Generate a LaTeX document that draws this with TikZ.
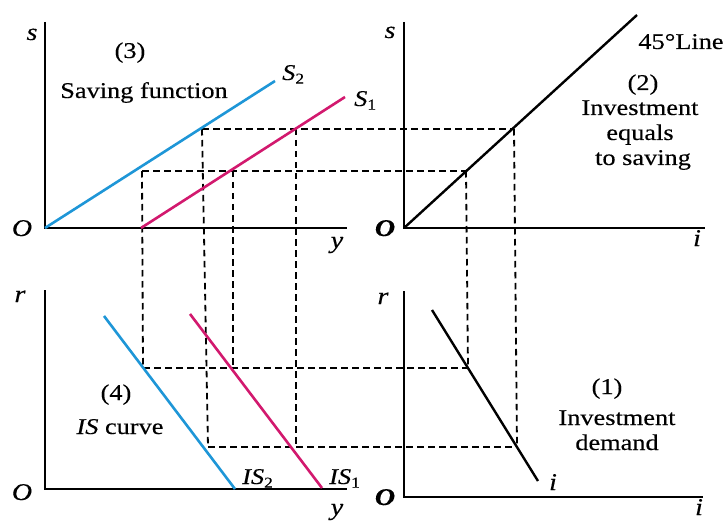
\documentclass[tikz,border=0pt]{standalone}
\usepackage{fontspec}
\setmainfont{Liberation Serif}[FakeStretch=1.17,FakeBold=0.3]
\definecolor{sblue}{RGB}{30,150,215}
\definecolor{smag}{RGB}{210,25,110}
\newcommand{\lsub}[1]{\raisebox{-0.35ex}{\fontsize{15}{15}\selectfont #1}}
\begin{document}
\begin{tikzpicture}[x=1pt,y=-1pt,
  axis/.style={line width=2.3pt},
  curveline/.style={line width=2.6pt},
  guide/.style={line width=1.8pt, dash pattern=on 6.5pt off 4.5pt},
  lbl/.style={inner sep=0pt, anchor=base, font=\fontsize{22.5}{26}\selectfont},
  albl/.style={lbl, font=\fontsize{24}{26}\selectfont\itshape},
  olbl/.style={lbl, font=\fontsize{24}{26}\selectfont\bfseries\itshape}]
\useasboundingbox (0,0) rectangle (727,521);
% ---------- axes ----------
\coordinate (TLtop) at (45,22);   \coordinate (TLo) at (45,228);  \coordinate (TLx) at (347,228);
\coordinate (TRtop) at (404,22);  \coordinate (TRo) at (404,228); \coordinate (TRx) at (705,228);
\coordinate (BLtop) at (45,290);  \coordinate (BLo) at (45,489);  \coordinate (BLx) at (347,489);
\coordinate (BRtop) at (404,291); \coordinate (BRo) at (404,497); \coordinate (BRx) at (703,497);
\draw[axis] (TLtop) -- (TLo) -- (TLx);
\draw[axis] (TRtop) -- (TRo) -- (TRx);
\draw[axis] (BLtop) -- (BLo) -- (BLx);
\draw[axis] (BRtop) -- (BRo) -- (BRx);
% ---------- curves ----------
\coordinate (S2a) at (45,228);  \coordinate (S2b) at (275,81);
\coordinate (S1a) at (141,228); \coordinate (S1b) at (345,97);
\coordinate (La) at (404,228);  \coordinate (Lb) at (637,15);
\coordinate (IS2a) at (104,316); \coordinate (IS2b) at (235,489);
\coordinate (IS1a) at (190,314); \coordinate (IS1b) at (322,488);
\coordinate (Ia) at (432,310);  \coordinate (Ib) at (538,481);
% ---------- guide points ----------
\coordinate (A1) at (202,129); \coordinate (A2) at (296,129); \coordinate (A3) at (514,129);
\coordinate (B1) at (142,171); \coordinate (B2) at (233,171); \coordinate (B3) at (466,171);
\coordinate (C1) at (143,368); \coordinate (C2) at (233,368); \coordinate (C3) at (468,368);
\coordinate (D1) at (208,447); \coordinate (D2) at (296,447); \coordinate (D3) at (517,447);
\draw[guide] (A1) -- (A3);
\draw[guide] (B1) -- (B3);
\draw[guide] (C1) -- (C3);
\draw[guide] (D1) -- (D3);
\draw[guide] (B1) -- (C1);
\draw[guide] (B2) -- (C2);
\draw[guide] (B3) -- (C3);
\draw[guide] (A1) -- (D1);
\draw[guide] (A2) -- (D2);
\draw[guide] (A3) -- (D3);
\draw[curveline, sblue] (S2a) -- (S2b);
\draw[curveline, smag] (S1a) -- (S1b);
\draw[curveline, black, line width=2.4pt] (La) -- (Lb);
\draw[curveline, sblue] (IS2a) -- (IS2b);
\draw[curveline, smag] (IS1a) -- (IS1b);
\draw[curveline, black, line width=2.4pt] (Ia) -- (Ib);
% ---------- labels: top left ----------
\node[albl] (ls1) at (32,40) {s};
\node[albl] (lo1) at (22,236) {O};
\node[albl] (ly1) at (337,248) {y};
\node[lbl] (t3) at (130,58) {(3)};
\node[lbl] (tsf) at (144,98) {Saving function};
\node[lbl, anchor=base west] (lS2) at (282,80) {\textit{S}\lsub{2}};
\node[lbl, anchor=base west] (lS1) at (354,106) {\textit{S}\lsub{1}};
% ---------- labels: top right ----------
\node[albl] (ls2) at (390,38) {s};
\node[olbl] (lo2) at (385,236) {O};
\node[albl] (li2) at (697,246) {i};
\node[lbl] (t45) at (681,49) {45°Line};
\node[lbl] (t2a) at (643,90) {(2)};
\node[lbl] (t2b) at (640,115) {Investment};
\node[lbl] (t2c) at (640,140) {equals};
\node[lbl] (t2d) at (643,165) {to saving};
% ---------- labels: bottom left ----------
\node[albl] (lr3) at (20,302) {r};
\node[albl] (lo3) at (22,500) {O};
\node[albl] (ly3) at (337,515) {y};
\node[lbl] (t4a) at (116,400) {(4)};
\node[lbl] (t4b) at (120,434) {\textit{IS} curve};
\node[lbl, anchor=base west] (lIS2) at (242,484) {\textit{IS}\lsub{2}};
\node[lbl, anchor=base west] (lIS1) at (329,484) {\textit{IS}\lsub{1}};
% ---------- labels: bottom right ----------
\node[albl] (lr4) at (383,304) {r};
\node[olbl] (lo4) at (385,505) {O};
\node[albl] (li4) at (699,515) {i};
\node[albl] (li5) at (553,490) {i};
\node[lbl] (t1a) at (607,394) {(1)};
\node[lbl] (t1b) at (617,425) {Investment};
\node[lbl] (t1c) at (617,450) {demand};
\end{tikzpicture}
\end{document}
